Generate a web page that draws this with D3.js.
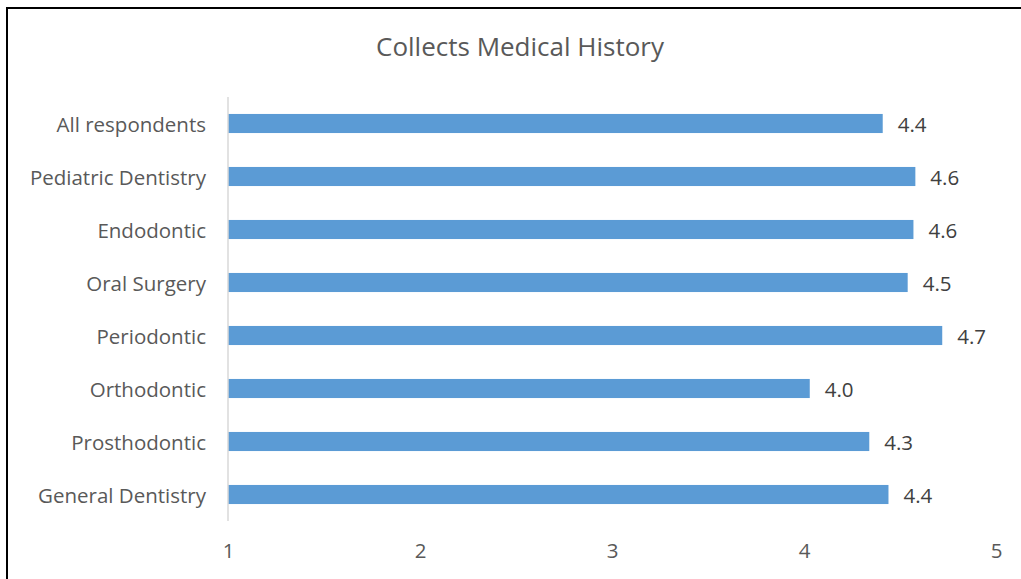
<!DOCTYPE html>
<html>
<head>
<meta charset="utf-8">
<script src="https://cdn.jsdelivr.net/npm/d3@7"></script>
<style>
  body { margin: 0; background: #fff; }
  svg { display: block; font-family: "Open Sans", sans-serif; }
</style>
</head>
<body>
<div id="chart"></div>
<script>
// chart values
const categories = ["All respondents", "Pediatric Dentistry", "Endodontic", "Oral Surgery",
                    "Periodontic", "Orthodontic", "Prosthodontic", "General Dentistry"];
const values = [4.41, 4.58, 4.57, 4.54, 4.72, 4.03, 4.34, 4.44];
const labels = ["4.4", "4.6", "4.6", "4.5", "4.7", "4.0", "4.3", "4.4"];
const xTicks = [1, 2, 3, 4, 5];

const width = 1021, height = 579;
const svg = d3.select("#chart").append("svg").attr("width", width).attr("height", height);

// outer frame (runs past the right and bottom edge)
svg.append("rect").attr("x", 7).attr("y", 8).attr("width", 1030).attr("height", 600)
    .attr("fill", "none").attr("stroke", "#000").attr("stroke-width", 2);

svg.append("text").text("Collects Medical History")
    .attr("x", 520).attr("y", 56).attr("text-anchor", "middle")
    .style("font-size", "26px").style("fill", "#595959");

const x = d3.scaleLinear().domain([1, 5]).range([228, 996]);
const y = d3.scaleBand().domain(categories).range([97, 521]).paddingInner(0.64).paddingOuter(0.32);

// bars
svg.append("g").selectAll("rect").data(categories).enter().append("rect")
    .attr("x", x(1)).attr("y", d => y(d))
    .attr("width", (d, i) => x(values[i]) - x(1)).attr("height", y.bandwidth())
    .attr("fill", "#5b9bd5");

// value labels
svg.append("g").selectAll("text").data(categories).enter().append("text")
    .text((d, i) => labels[i])
    .attr("x", (d, i) => x(values[i]) + 15).attr("y", d => y(d) + y.bandwidth() / 2 + 1)
    .attr("dy", "0.35em")
    .style("font-size", "20.5px").style("fill", "#404040");

// category axis
const yAxis = svg.append("g").attr("transform", `translate(${x(1)},0)`)
    .call(d3.axisLeft(y).tickSize(0).tickPadding(22));
yAxis.select(".domain").attr("stroke", "#d9d9d9").attr("stroke-width", 1.5)
    .attr("d", "M0,97V521");
yAxis.selectAll("text").attr("dy", "0.4em").style("font-size", "20.5px").style("fill", "#595959")
    .style("font-family", "'Open Sans', sans-serif");

// value axis (labels only)
const xAxis = svg.append("g").attr("transform", "translate(0,521)")
    .call(d3.axisBottom(x).tickValues(xTicks).tickFormat(d3.format("d")).tickSize(0).tickPadding(22));
xAxis.select(".domain").remove();
xAxis.selectAll("text").style("font-size", "20.5px").style("fill", "#595959")
    .style("font-family", "'Open Sans', sans-serif");
</script>
</body>
</html>
